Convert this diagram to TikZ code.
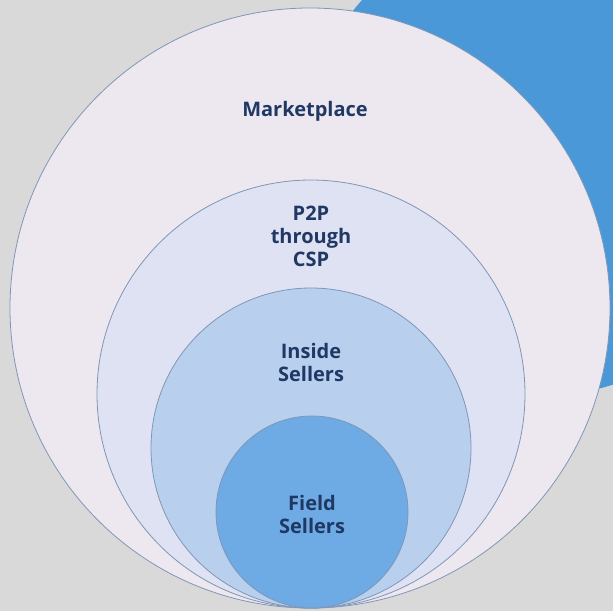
\documentclass[tikz,border=0pt]{standalone}
\usepackage{fontspec}
\setmainfont{Open Sans}
\definecolor{bggray}{RGB}{217,217,217}
\definecolor{deco}{RGB}{74,152,216}
\definecolor{ring}{RGB}{128,150,182}
\definecolor{fillA}{RGB}{237,232,240}
\definecolor{fillB}{RGB}{223,226,242}
\definecolor{fillC}{RGB}{184,208,238}
\definecolor{fillD}{RGB}{110,170,228}
\definecolor{txt}{RGB}{31,56,100}
\tikzset{
  disc/.style={circle, draw=ring, line width=0.8pt, inner sep=0pt, outer sep=0pt},
  lbl/.style={font=\fontsize{20}{23}\selectfont\bfseries, text=txt, align=center, inner sep=0pt}
}
\begin{document}
\begin{tikzpicture}[x=1pt,y=-1pt]
\useasboundingbox (0,0) rectangle (613,611);
\fill[bggray] (0,0) rectangle (613,611);
\begin{scope}
\clip (0,0) rectangle (613,611);
\fill[deco] (540,158) circle[radius=238];
\node[disc, fill=fillA, minimum size=600pt] (market) at (310,308) {};
\node[disc, fill=fillB, minimum size=428pt] (p2p) at (311,394) {};
\node[disc, fill=fillC, minimum size=320pt] (inside) at (311,448) {};
\node[disc, fill=fillD, minimum size=192pt] (field) at (312,512) {};
\end{scope}
\node[lbl] (tmarket) at (305,111) {Marketplace};
\node[lbl] (tp2p) at (311,236) {P2P\\through\\CSP};
\node[lbl] (tinside) at (311,362) {Inside\\Sellers};
\node[lbl] (tfield) at (312,514) {Field\\Sellers};
\end{tikzpicture}
\end{document}
